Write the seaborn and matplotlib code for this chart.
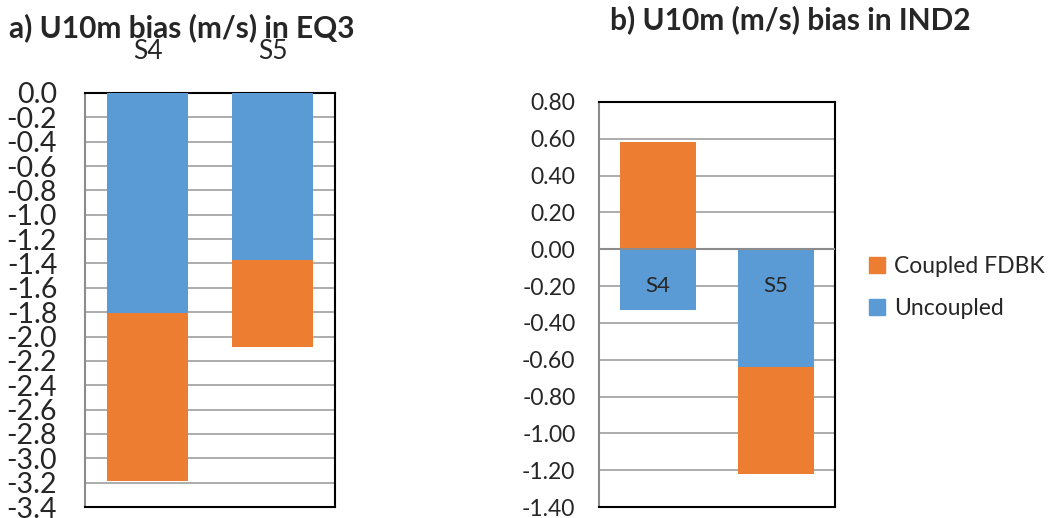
import numpy as np
import pandas as pd
import matplotlib.pyplot as plt
import seaborn as sns
from matplotlib.patches import Patch

# values
cats = ["S4", "S5"]
eq3_uncoupled = [-1.81, -1.37]
eq3_coupled = [-1.38, -0.72]
ind2_uncoupled = [-0.33, -0.64]
ind2_coupled = [0.58, -0.58]

eq3_ticks = np.round(np.arange(0.0, -3.41, -0.2), 1)
ind2_ticks = np.round(np.arange(0.8, -1.41, -0.2), 2)

blue = "#5b9bd5"
orange = "#ed7d31"

sns.set_theme(style="white")
plt.rcParams["font.family"] = ["Lato", "DejaVu Sans"]


def stack_end(unc, cpl):
    # excel stacks positives and negatives separately
    unc = np.array(unc)
    cpl = np.array(cpl)
    return np.where(np.sign(unc) == np.sign(cpl), unc + cpl, cpl)


def draw(ax, unc, cpl):
    df = pd.DataFrame({"cat": cats, "unc": unc, "end": stack_end(unc, cpl)})
    sns.barplot(data=df, x="cat", y="end", color=orange, saturation=1,
                width=0.65, ax=ax, zorder=2, linewidth=0)
    sns.barplot(data=df, x="cat", y="unc", color=blue, saturation=1,
                width=0.65, ax=ax, zorder=3, linewidth=0)
    ax.set_xlim(-0.5, 1.5)
    ax.set_xlabel("")
    ax.set_ylabel("")
    ax.grid(axis="y", color="#a6a6a6", lw=1.3, zorder=0)
    ax.set_axisbelow(True)
    for s in ["top", "right", "bottom"]:
        ax.spines[s].set_color("black")
        ax.spines[s].set_linewidth(1.5)
    ax.spines["left"].set_color("#8c8c8c")
    ax.spines["left"].set_linewidth(1.5)
    ax.tick_params(axis="y", length=0)


fig = plt.figure(figsize=(10.52, 5.18), dpi=100)
ax1 = fig.add_axes([0.0808, 0.0212, 0.2376, 0.7993])
ax2 = fig.add_axes([0.5694, 0.0212, 0.2243, 0.7819])

# a) EQ3
draw(ax1, eq3_uncoupled, eq3_coupled)
ax1.set_ylim(-3.4, 0)
ax1.set_yticks(eq3_ticks)
ax1.set_yticklabels([f"{t:.1f}" for t in eq3_ticks], fontsize=20.5)
ax1.tick_params(axis="y", pad=20)
ax1.xaxis.tick_top()
ax1.tick_params(axis="x", length=0, pad=21, labelsize=19)
fig.text(0.009, 0.947, "a) U10m bias (m/s) in EQ3", fontsize=21.5,
         fontweight="bold", va="center")

# b) IND2
draw(ax2, ind2_uncoupled, ind2_coupled)
ax2.set_ylim(-1.4, 0.8)
ax2.set_yticks(ind2_ticks)
ax2.set_yticklabels([f"{t:.2f}" for t in ind2_ticks], fontsize=16.5)
ax2.tick_params(axis="y", pad=17)
ax2.set_xticks([])
ax2.axhline(0, color="#8c8c8c", lw=1.5, zorder=4)
for i, c in enumerate(cats):
    ax2.text(i, -0.2, c, ha="center", va="center", fontsize=16, zorder=5)
fig.text(0.58, 0.962, "b) U10m (m/s) bias in IND2", fontsize=21.5,
         fontweight="bold", va="center")

handles = [Patch(color=orange, label="Coupled FDBK"),
           Patch(color=blue, label="Uncoupled")]
fig.legend(handles=handles, loc="center left", bbox_to_anchor=(0.826, 0.445),
           frameon=False, fontsize=16.5, handlelength=0.7, handleheight=0.7,
           handletextpad=0.4, labelspacing=0.9, borderpad=0, borderaxespad=0)

fig.savefig("out.png", dpi=100)
